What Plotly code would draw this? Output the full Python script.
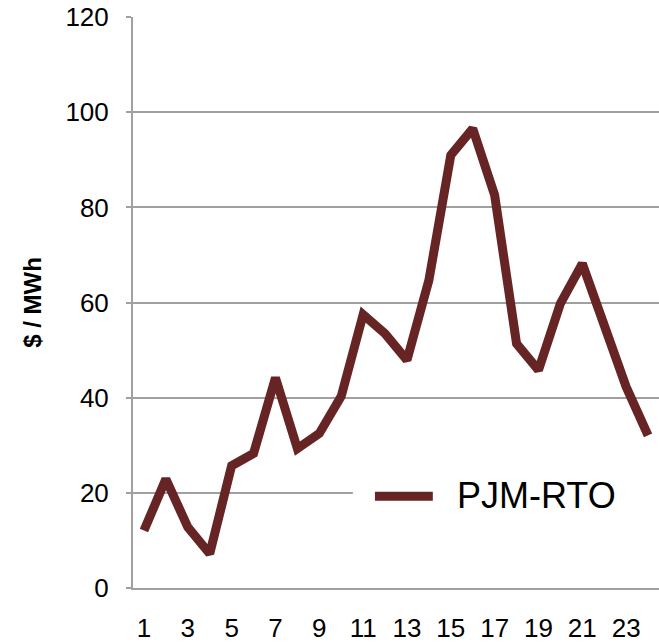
import plotly.graph_objects as go

hours = list(range(1, 25))
prices = [12.1, 22.9, 12.8, 7.2, 25.7, 28.3, 44.2, 29.3, 32.5, 40.3, 57.5, 53.5,
          47.9, 64.7, 91.0, 96.6, 82.6, 51.4, 45.8, 59.8, 68.2, 55.6, 42.3, 32.1]
series_name = "PJM-RTO"
y_ticks = [0, 20, 40, 60, 80, 100, 120]
x_ticks = list(range(1, 24, 2))

LINE = "#662424"
GRID = "#a0a0a0"

fig = go.Figure()
fig.add_trace(go.Scatter(x=hours, y=prices, mode="lines", name=series_name,
                         line=dict(color=LINE, width=9), showlegend=False))

# legend (white box covering gridline, sample line, label)
fig.add_shape(type="rect", xref="paper", yref="paper", x0=0.418, x1=1.0, y0=0.08, y1=0.2,
              fillcolor="white", line=dict(width=0), layer="above")
fig.add_shape(type="line", xref="paper", yref="y", x0=0.46, x1=0.57, y0=19.3, y1=19.3,
              line=dict(color=LINE, width=9), layer="above")
fig.add_annotation(xref="paper", yref="y", x=0.612, y=19.5, text=series_name, showarrow=False,
                   xanchor="left", yanchor="middle", font=dict(size=36, color="#000"))

fig.update_layout(
    width=659, height=643,
    margin=dict(l=133, r=0, t=17, b=55),
    paper_bgcolor="white", plot_bgcolor="white",
    font=dict(family="Liberation Sans, Arial", color="#000"),
    xaxis=dict(range=[0.5, 24.5], tickvals=x_ticks, ticktext=[str(v) for v in x_ticks],
               showgrid=False, zeroline=False, showline=True, linecolor=GRID, linewidth=2,
               ticks="", tickfont=dict(size=26), ticklabelstandoff=16, automargin=False),
    yaxis=dict(range=[0, 120.05], tickvals=y_ticks, showgrid=True, gridcolor=GRID, gridwidth=1.5,
               zeroline=False, showline=True, linecolor=GRID, linewidth=2,
               ticks="outside", ticklen=5, tickcolor=GRID, tickwidth=1.5,
               tickfont=dict(size=26), ticklabelstandoff=12, automargin=False,
               title=dict(text="<b>$ / MWh</b>", font=dict(size=24), standoff=17)),
)

fig.write_html("out.html", config={"displayModeBar": False},
               post_script="document.body.style.margin='0';")
